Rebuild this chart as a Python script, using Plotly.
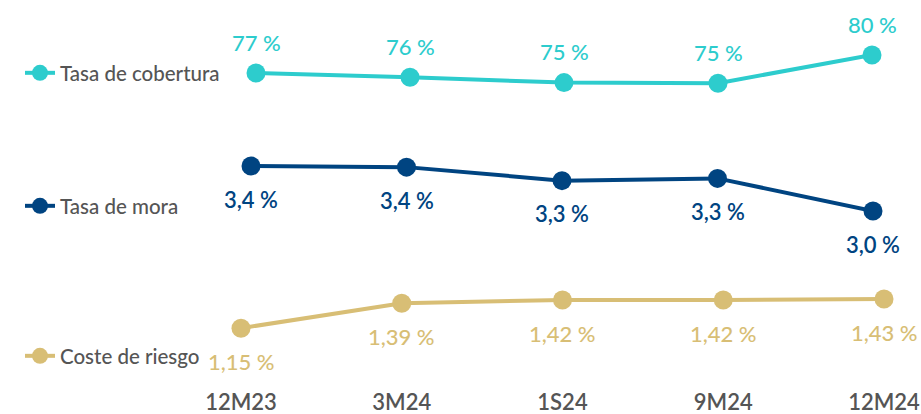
import plotly.graph_objects as go

periods = ["12M23", "3M24", "1S24", "9M24", "12M24"]

cobertura = [77.0, 76.3, 75.4, 75.3, 80.0]
cobertura_txt = ["77 %", "76 %", "75 %", "75 %", "80 %"]

mora = [3.40, 3.39, 3.27, 3.29, 3.00]
mora_txt = ["3,4 %", "3,4 %", "3,3 %", "3,3 %", "3,0 %"]

coste = [1.15, 1.39, 1.42, 1.42, 1.43]
coste_txt = ["1,15 %", "1,39 %", "1,42 %", "1,42 %", "1,43 %"]

C_COB = "#2DCCCD"
C_MORA = "#004481"
C_COSTE = "#D8BE75"
GREY = "#555555"
FONT = "Lato"

W, H = 921, 414
MB = 27

idx = list(range(len(periods)))

fig = go.Figure()

series = [
    ("Tasa de cobertura", cobertura, cobertura_txt, C_COB, "x3", "y3", "legend", 31, 500),
    ("Tasa de mora", mora, mora_txt, C_MORA, "x2", "y2", "legend2", -33, 600),
    ("Coste de riesgo", coste, coste_txt, C_COSTE, "x", "y", "legend3", -33, 500),
]

for name, vals, txt, col, xa, ya, lg, shift, wt in series:
    fig.add_trace(go.Scatter(
        x=idx, y=vals, name=name, mode="lines+markers",
        line=dict(color=col, width=4),
        marker=dict(color=col, size=19),
        xaxis=xa, yaxis=ya, legend=lg, cliponaxis=False,
        hoverinfo="skip",
    ))
    for i, v, t in zip(idx, vals, txt):
        fig.add_annotation(
            x=i, y=v, xref=xa, yref=ya, text=t, showarrow=False,
            yshift=shift, font=dict(family=FONT, size=22, color=col, weight=wt),
        )

axis_common = dict(showgrid=False, zeroline=False, showline=False, ticks="",
                   automargin=False)

fig.update_layout(
    width=W, height=H,
    margin=dict(l=0, r=0, t=0, b=MB, autoexpand=False),
    paper_bgcolor="white", plot_bgcolor="rgba(0,0,0,0)",
    showlegend=True,
    xaxis=dict(domain=[241 / W, 884 / W], range=[0, 4], autorange=False,
               tickmode="array", tickvals=idx, ticktext=periods,
               tickfont=dict(family=FONT, size=22, color=GREY, weight=600),
               **axis_common),
    xaxis2=dict(domain=[251 / W, 873 / W], range=[0, 4], autorange=False,
                anchor="y2", showticklabels=False, **axis_common),
    xaxis3=dict(domain=[256 / W, 872 / W], range=[0, 4], autorange=False,
                anchor="y3", showticklabels=False, **axis_common),
    yaxis=dict(range=[0.5852, 4.3003], showticklabels=False, **axis_common),
    yaxis2=dict(range=[1.4356, 4.8756], anchor="x2", showticklabels=False, **axis_common),
    yaxis3=dict(range=[24.667, 89.167], anchor="x3", showticklabels=False, **axis_common),
)

legend_common = dict(x=20 / W, xanchor="left", yanchor="middle", bgcolor="rgba(0,0,0,0)",
                     font=dict(family=FONT, size=20.5, color=GREY, weight=500),
                     itemclick=False, itemdoubleclick=False)
fig.update_layout(
    legend=dict(y=1 - 73 / (H - MB), **legend_common),
    legend2=dict(y=1 - 206 / (H - MB), **legend_common),
    legend3=dict(y=1 - 356 / (H - MB), **legend_common),
)

fig.write_html("out.html", config={"displayModeBar": False},
               post_script="document.body.style.margin='0';")
